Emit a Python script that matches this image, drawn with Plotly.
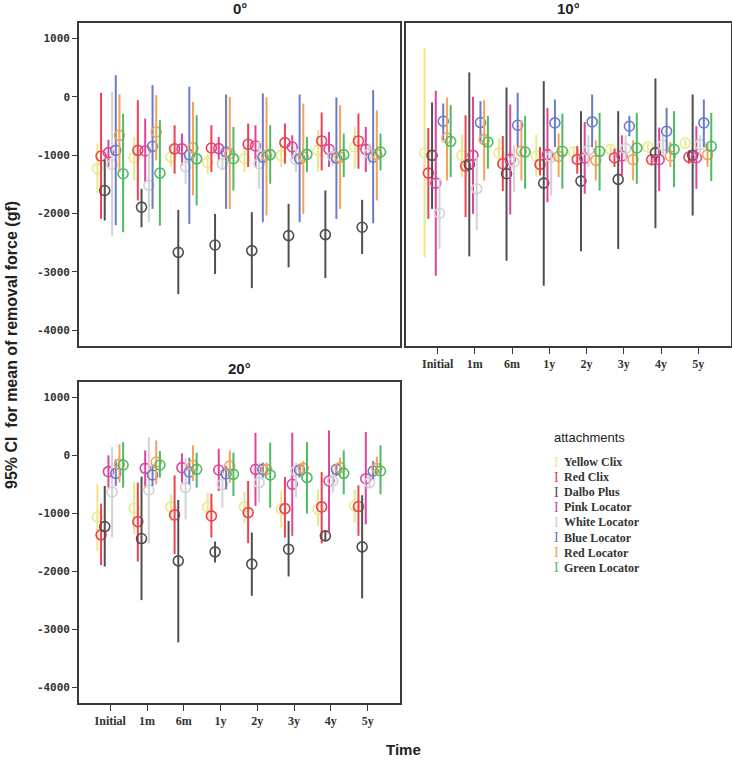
import plotly.graph_objects as go

W, H = 732, 762

TIMES = ["Initial", "1m", "6m", "1y", "2y", "3y", "4y", "5y"]
SERIES = ["Yellow Clix", "Red Clix", "Dalbo Plus", "Pink Locator",
          "White Locator", "Blue Locator", "Red Locator", "Green Locator"]
COLORS = ["#ECE88A", "#EE4152", "#4F4F4F", "#E0449A",
          "#D2D2D2", "#6A7CC8", "#F4A259", "#4DBB63"]
YTICKS = [-4000, -3000, -2000, -1000, 0, 1000]
YTICK_TEXT = ["-4000", "-3000", "-2000", "-1000", "0", "1000"]

# ---------- 0 degrees ----------
mean_0 = {
    "Yellow Clix":   [-1232, -1043, -1032, -1129, -1060, -1003, -917, -860],
    "Red Clix":      [-1015, -917, -892, -877, -814, -785, -756, -756],
    "Dalbo Plus":    [-1605, -1891, -2665, -2539, -2636, -2378, -2361, -2235],
    "Pink Locator":  [-957, -928, -892, -888, -842, -860, -900, -900],
    "White Locator": [-1160, -1519, -1200, -1146, -1146, -1077, -1020, -974],
    "Blue Locator":  [-917, -848, -995, -946, -1032, -1060, -1049, -1032],
    "Red Locator":   [-660, -602, -875, -974, -1003, -1032, -1032, -986],
    "Green Locator": [-1318, -1307, -1063, -1060, -991, -986, -991, -946],
}
upper_0 = {
    "Yellow Clix":   [-800, -690, -860, -975, -860, -802, -573, -516],
    "Red Clix":      [70, -57, -487, -487, -458, -458, -269, -287],
    "Dalbo Plus":    [-1080, -1576, -1937, -2006, -1977, -1834, -1605, -1765],
    "Pink Locator":  [-735, -372, -630, -688, -487, -659, -602, -516],
    "White Locator": [85, -888, -974, -975, -745, -888, -880, -800],
    "Blue Locator":  [370, 200, 172, 40, 57, 40, -11, 115],
    "Red Locator":   [40, 29, -86, 0, -11, -115, -143, -229],
    "Green Locator": [-290, -401, -315, -516, -487, -688, -630, -630],
}
lower_0 = {
    "Yellow Clix":   [-1660, -1430, -1200, -1318, -1290, -1203, -1289, -1232],
    "Red Clix":      [-2090, -1776, -1318, -1289, -1203, -1146, -1261, -1232],
    "Dalbo Plus":    [-2120, -2235, -3381, -3037, -3278, -2923, -3106, -2693],
    "Pink Locator":  [-1200, -1461, -1175, -1089, -1203, -1060, -1203, -1289],
    "White Locator": [-2380, -2149, -1490, -1261, -1576, -1289, -1180, -1150],
    "Blue Locator":  [-2200, -1920, -2178, -1920, -2149, -2149, -2092, -2166],
    "Red Locator":   [-1290, -1089, -1690, -1920, -2034, -2006, -1920, -1776],
    "Green Locator": [-2320, -2206, -1862, -1605, -1490, -1289, -1375, -1261],
}

# ---------- 10 degrees ----------
mean_10 = {
    "Yellow Clix":   [-963, -1003, -963, -1014, -946, -900, -860, -791],
    "Red Clix":      [-1307, -1186, -1146, -1158, -1072, -1043, -1077, -1032],
    "Dalbo Plus":    [-1003, -1158, -1318, -1479, -1444, -1415, -957, -1003],
    "Pink Locator":  [-1479, -1003, -1072, -991, -1049, -1014, -1077, -1043],
    "White Locator": [-1994, -1576, -1117, -1032, -917, -888, -831, -820],
    "Blue Locator":  [-418, -441, -487, -447, -430, -504, -590, -447],
    "Red Locator":   [-705, -734, -934, -1020, -1089, -1077, -1014, -991],
    "Green Locator": [-762, -774, -946, -934, -934, -877, -900, -848],
}
upper_10 = {
    "Yellow Clix":   [842, -648, -716, -648, -880, -830, -800, -740],
    "Red Clix":      [-533, -315, -670, -860, -842, -888, -980, -917],
    "Dalbo Plus":    [-97, 418, 160, 269, -246, -246, 315, 40],
    "Pink Locator":  [103, 0, -132, -189, -430, -659, -527, -504],
    "White Locator": [-1375, -1032, -831, -917, -659, -659, -659, -659],
    "Blue Locator":  [-115, -74, 69, -46, 40, -327, -189, -46],
    "Red Locator":   [-17, -57, -401, -630, -745, -745, -774, -802],
    "Green Locator": [-143, -327, -327, -287, -275, -275, -246, -275],
}
lower_10 = {
    "Yellow Clix":   [-2751, -1375, -1203, -1375, -1020, -970, -920, -850],
    "Red Clix":      [-2092, -2063, -1616, -1347, -1318, -1203, -1170, -1146],
    "Dalbo Plus":    [-1920, -2734, -2808, -3238, -2648, -2607, -2252, -2034],
    "Pink Locator":  [-3066, -2006, -2017, -1805, -1662, -1347, -1616, -1576],
    "White Locator": [-2607, -2281, -1633, -1691, -1203, -1117, -1003, -990],
    "Blue Locator":  [-745, -774, -860, -860, -860, -676, -974, -860],
    "Red Locator":   [-1433, -1433, -1433, -1375, -1433, -1433, -1203, -1203],
    "Green Locator": [-1375, -1232, -1576, -1576, -1605, -1490, -1547, -1444],
}

# ---------- 20 degrees ----------
mean_20 = {
    "Yellow Clix":   [-1061, -912, -889, -889, -889, -929, -929, -872],
    "Red Clix":      [-1371, -1142, -1027, -1044, -987, -918, -889, -883],
    "Dalbo Plus":    [-1228, -1434, -1819, -1664, -1876, -1618, -1388, -1578],
    "Pink Locator":  [-281, -224, -212, -252, -241, -499, -442, -402],
    "White Locator": [-631, -597, -557, -499, -470, -270, -442, -470],
    "Blue Locator":  [-310, -338, -287, -316, -241, -252, -241, -270],
    "Red Locator":   [-155, -115, -172, -184, -241, -224, -212, -224],
    "Green Locator": [-166, -166, -241, -327, -338, -384, -310, -270],
}
upper_20 = {
    "Yellow Clix":   [-488, -459, -671, -643, -631, -614, -585, -585],
    "Red Clix":      [-832, -470, -344, -660, -442, -373, -287, -516],
    "Dalbo Plus":    [-528, -367, -769, -1486, -1331, -1130, -1302, -688],
    "Pink Locator":  [0, 86, 34, 115, 390, 390, 430, 402],
    "White Locator": [143, 316, -40, -241, -126, -126, -240, -300],
    "Blue Locator":  [-69, -155, -40, -184, -126, -143, -155, -98],
    "Red Locator":   [189, 258, 172, 86, -126, -100, -40, -23],
    "Green Locator": [229, 75, 46, 46, 218, 229, 86, 172],
}
lower_20 = {
    "Yellow Clix":   [-1647, -1360, -1130, -1102, -1159, -1245, -1216, -1159],
    "Red Clix":      [-1893, -1830, -1704, -1417, -1515, -1417, -1520, -1388],
    "Dalbo Plus":    [-1916, -2496, -3224, -1847, -2421, -2088, -1474, -2467],
    "Pink Locator":  [-557, -557, -470, -614, -872, -1388, -1331, -1188],
    "White Locator": [-1417, -1520, -1102, -901, -815, -729, -640, -560],
    "Blue Locator":  [-528, -528, -499, -585, -384, -384, -356, -413],
    "Red Locator":   [-470, -499, -442, -470, -360, -350, -356, -327],
    "Green Locator": [-557, -384, -557, -700, -901, -1004, -671, -671],
}

PANELS = [
    ("0°", mean_0, upper_0, lower_0, "x", "y"),
    ("10°", mean_10, upper_10, lower_10, "x2", "y2"),
    ("20°", mean_20, upper_20, lower_20, "x3", "y3"),
]

fig = go.Figure()
n = len(SERIES)
for title, means, ups, lows, xa, ya in PANELS:
    for i, (name, col) in enumerate(zip(SERIES, COLORS)):
        off = (i - (n - 1) / 2) * 0.1
        m = means[name]
        xs = [k + off for k in range(len(TIMES))]
        fig.add_trace(go.Scatter(
            x=xs, y=m, mode="markers", name=name, showlegend=False,
            xaxis=xa, yaxis=ya,
            marker=dict(symbol="circle-open", size=10, color=col,
                        line=dict(width=1.6, color=col)),
            error_y=dict(type="data", symmetric=False,
                         array=[u - v for u, v in zip(ups[name], m)],
                         arrayminus=[v - lo for v, lo in zip(m, lows[name])],
                         width=0, thickness=2, color=col),
        ))

def px_x(p):
    return p / W

def px_y(p):
    return 1 - p / H

YR = [-4270, 1265]
XR = [-0.85, 7.88]
axis_line = dict(showline=True, mirror=True, linecolor="#3a3a3a", linewidth=1.6,
                 showgrid=False, zeroline=False)
yfont = dict(family="DejaVu Sans Mono", size=11, color="#333333", weight="bold")
xfont = dict(family="Liberation Serif", size=12, color="#333333", weight="bold")

fig.update_layout(
    width=W, height=H, margin=dict(l=0, r=0, t=0, b=0),
    paper_bgcolor="white", plot_bgcolor="white", showlegend=False,
    xaxis=dict(domain=[px_x(79), px_x(400)], range=XR, anchor="y",
               showticklabels=False, ticks="", **axis_line),
    yaxis=dict(domain=[px_y(346), px_y(23)], range=YR, anchor="x",
               tickvals=YTICKS, ticktext=YTICK_TEXT, ticks="outside",
               ticklen=5, tickcolor="#3a3a3a", tickfont=yfont, **axis_line),
    xaxis2=dict(domain=[px_x(406), px_x(731)], range=XR, anchor="y2",
                tickvals=list(range(len(TIMES))), ticktext=TIMES,
                ticks="outside", ticklen=6, tickcolor="#3a3a3a",
                tickfont=xfont, **axis_line),
    yaxis2=dict(domain=[px_y(346), px_y(23)], range=YR, anchor="x2",
                showticklabels=False, ticks="", **axis_line),
    xaxis3=dict(domain=[px_x(79), px_x(400)], range=XR, anchor="y3",
                tickvals=list(range(len(TIMES))), ticktext=TIMES,
                ticks="outside", ticklen=6, tickcolor="#3a3a3a",
                tickfont=xfont, **axis_line),
    yaxis3=dict(domain=[px_y(703), px_y(382)], range=YR, anchor="x3",
                tickvals=YTICKS, ticktext=YTICK_TEXT, ticks="outside",
                ticklen=5, tickcolor="#3a3a3a", tickfont=yfont, **axis_line),
)

title_font = dict(family="Liberation Sans", size=15, color="#222222", weight="bold")
ann = [
    dict(text="0°", x=px_x(240), y=px_y(9), font=title_font),
    dict(text="10°", x=px_x(568), y=px_y(9), font=title_font),
    dict(text="20°", x=px_x(240), y=px_y(368), font=title_font),
    dict(text="Time", x=px_x(404), y=px_y(749),
         font=dict(family="Liberation Sans", size=15, color="#222222", weight="bold")),
    dict(text="95% CI  for mean of removal force (gf)", x=px_x(11), y=px_y(345),
         textangle=-90,
         font=dict(family="Liberation Sans", size=16, color="#222222", weight="bold")),
    dict(text="attachments", x=px_x(552), y=px_y(437), xanchor="left",
         font=dict(family="Liberation Sans", size=13, color="#222222")),
]
for a in ann:
    a.setdefault("xanchor", "center")
    a.update(xref="paper", yref="paper", yanchor="middle", showarrow=False)
    fig.add_annotation(**a)

# legend drawn as annotations
for i, (name, col) in enumerate(zip(SERIES, COLORS)):
    yy = 462 + i * 15.1
    fig.add_annotation(text="I", x=px_x(556), y=px_y(yy), xref="paper", yref="paper",
                       showarrow=False, xanchor="center", yanchor="middle",
                       font=dict(family="Liberation Serif", size=14, color=col))
    fig.add_annotation(text=name, x=px_x(562), y=px_y(yy), xref="paper", yref="paper",
                       showarrow=False, xanchor="left", yanchor="middle",
                       font=dict(family="Liberation Serif", size=12, color="#333333",
                                 weight="bold"))

fig.write_html("out.html", config={"displayModeBar": False},
               post_script="document.body.style.margin='0';document.body.style.overflow='hidden';")
